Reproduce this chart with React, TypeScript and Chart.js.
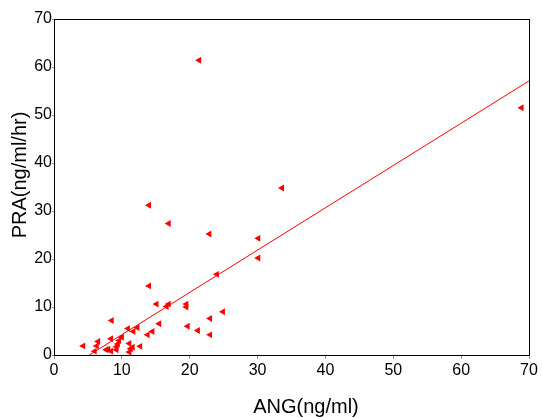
import React, { useEffect, useRef } from "react";
import { Chart, registerables } from "chart.js";

Chart.register(...registerables);

const angValues = [21.4, 68.9, 33.6, 14.0, 16.9, 22.9, 30.1, 30.1, 24.0, 14.0, 15.1, 16.9, 16.6, 19.5, 19.5, 24.9, 23.0, 8.5, 15.5, 19.7, 21.2, 23.0, 10.9, 11.7, 12.3, 14.5, 13.8, 8.4, 10.0, 9.6, 4.3, 6.5, 6.3, 7.7, 9.2, 9.2, 11.1, 11.3, 12.7, 6.0, 8.4, 11.1, 8.0, 11.6, 9.4];
const praValues = [61.4, 51.5, 34.8, 31.2, 27.4, 25.2, 24.3, 20.2, 16.8, 14.4, 10.6, 10.6, 10.1, 10.6, 10.0, 9.0, 7.6, 7.2, 6.5, 6.0, 5.1, 4.2, 5.5, 4.9, 5.7, 4.9, 4.2, 3.4, 3.7, 3.0, 1.9, 2.8, 1.9, 1.1, 1.7, 1.1, 2.4, 1.3, 1.8, 0.8, 0.8, 0.6, 1.2, 1.6, 2.3];
const fitX = [5.2, 70];
const fitY = [0, 57.1];
const xTitle = "ANG(ng/ml)";
const yTitle = "PRA(ng/ml/hr)";
const axisMin = 0;
const axisMax = 70;
const axisStep = 10;

const framePlugin = {
  id: "frameAndTitles",
  afterDraw(chart: any) {
    const { ctx, chartArea } = chart;
    ctx.save();
    ctx.strokeStyle = "#000";
    ctx.lineWidth = 1;
    ctx.strokeRect(
      Math.round(chartArea.left) + 0.5,
      Math.round(chartArea.top) + 0.5,
      Math.round(chartArea.right - chartArea.left),
      Math.round(chartArea.bottom - chartArea.top)
    );
    ctx.fillStyle = "#000";
    ctx.font = "20px 'Liberation Sans', Arial, sans-serif";
    ctx.textAlign = "center";
    ctx.textBaseline = "middle";
    ctx.fillText(xTitle, 306, 407);
    ctx.translate(20, 175);
    ctx.rotate(-Math.PI / 2);
    ctx.fillText(yTitle, 0, 0);
    ctx.restore();
  },
};

export default function App() {
  const ref = useRef<HTMLCanvasElement>(null);
  useEffect(() => {
    if (!ref.current) return;
    const chart = new Chart(ref.current, {
      type: "scatter",
      data: {
        datasets: [
          {
            type: "line",
            data: fitX.map((x, i) => ({ x, y: fitY[i] })),
            borderColor: "#ff0000",
            borderWidth: 1,
            pointRadius: 0,
            fill: false,
          } as any,
          {
            data: angValues.map((x, i) => ({ x, y: praValues[i] })),
            pointStyle: "triangle",
            rotation: -90,
            pointRadius: 4,
            backgroundColor: "#ff0000",
            borderColor: "#ff0000",
            borderWidth: 0,
          } as any,
        ],
      },
      options: {
        animation: false,
        responsive: false,
        layout: { padding: { top: 19, right: 13, left: 0, bottom: 0 } },
        plugins: { legend: { display: false }, tooltip: { enabled: false } },
        scales: {
          x: {
            type: "linear",
            min: axisMin,
            max: axisMax,
            afterFit: (s: any) => {
              s.height = 63;
            },
            ticks: {
              stepSize: axisStep,
              color: "#000",
              padding: 2,
              font: { family: "'Liberation Sans', Arial, sans-serif", size: 16 },
            },
            grid: { drawOnChartArea: false, tickLength: 4, color: "#999" },
            border: { display: true, color: "#000", width: 1 },
          },
          y: {
            type: "linear",
            min: axisMin,
            max: axisMax,
            afterFit: (s: any) => {
              s.width = 54;
            },
            ticks: {
              stepSize: axisStep,
              color: "#000",
              padding: 0,
              font: { family: "'Liberation Sans', Arial, sans-serif", size: 16 },
            },
            grid: { drawOnChartArea: false, tickLength: 2, color: "#999" },
            border: { display: true, color: "#000", width: 1 },
          },
        },
      },
      plugins: [framePlugin],
    });
    return () => chart.destroy();
  }, []);
  return (
    <div style={{ position: "fixed", left: 0, top: 0, width: 542, height: 418, background: "#fff" }}>
      <canvas ref={ref} width={542} height={418} />
    </div>
  );
}
